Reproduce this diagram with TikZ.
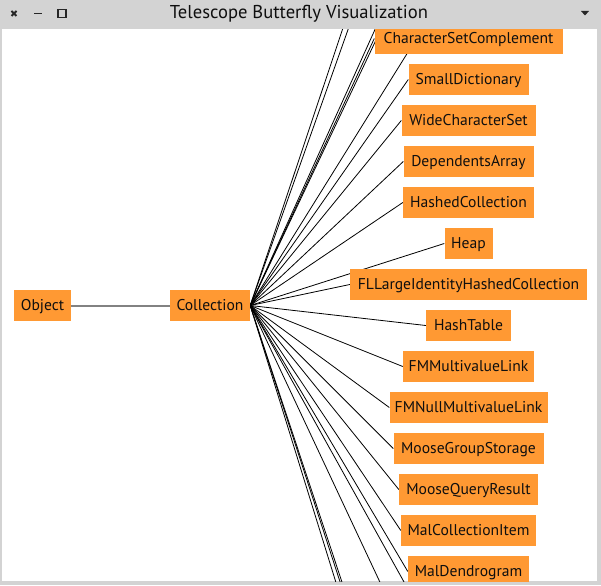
\documentclass[tikz,border=0pt]{standalone}
\usepackage{fontspec}
\setmainfont{PT Sans}
\definecolor{boxorange}{RGB}{255,153,51}
\definecolor{framegray}{RGB}{211,211,211}
\definecolor{edgegray}{RGB}{130,130,130}
\definecolor{txt}{RGB}{15,15,15}
\pgfdeclarelayer{bg}
\pgfdeclarelayer{edges}
\pgfsetlayers{bg,edges,main}
\begin{document}
\begin{tikzpicture}[x=1pt,y=-1pt,
  cls/.style={fill=boxorange, inner sep=0pt, minimum height=31pt, text height=12.5pt, text depth=1.7pt, font=\fontsize{15.6}{17}\selectfont, text=txt},
  edgeline/.style={black, line width=0.8pt},
  rootedge/.style={edgegray, line width=2pt},
  winicon/.style={black!85, line width=1.9pt}]
\useasboundingbox (0,0) rectangle (601,585);
\begin{pgfonlayer}{bg}
\fill[framegray] (0,0) rectangle (601,585);
\fill[white] (2,29) rectangle (597,581);
\end{pgfonlayer}
\begin{scope}
\clip (2,29) rectangle (597,581);
\node[cls, minimum width=57pt] (object) at (42.5,305.5) {Object};
\node[cls, minimum width=80pt] (collection) at (210,305.5) {Collection};
\node[cls, minimum width=188pt] (csc) at (468.5,38.5) {CharacterSetComplement};
\node[cls, minimum width=120pt] (smalldict) at (468.5,79.5) {SmallDictionary};
\node[cls, minimum width=134pt] (wide) at (468.5,120.5) {WideCharacterSet};
\node[cls, minimum width=130pt] (dep) at (468.5,161.5) {DependentsArray};
\node[cls, minimum width=131pt] (hashed) at (468.5,202.5) {HashedCollection};
\node[cls, minimum width=48pt] (heap) at (468.5,243.5) {Heap};
\node[cls, minimum width=237pt] (fllarge) at (468.5,284.5) {FLLargeIdentityHashedCollection};
\node[cls, minimum width=85pt] (hashtable) at (468.5,325.5) {HashTable};
\node[cls, minimum width=131pt] (fmmulti) at (468.5,366.5) {FMMultivalueLink};
\node[cls, minimum width=158pt] (fmnull) at (468.5,407.5) {FMNullMultivalueLink};
\node[cls, minimum width=150pt] (moosegroup) at (468.5,448.5) {MooseGroupStorage};
\node[cls, minimum width=139pt] (moosequery) at (468.5,489.5) {MooseQueryResult};
\node[cls, minimum width=135pt] (malcoll) at (468.5,530.5) {MalCollectionItem};
\node[cls, minimum width=121pt] (maldendro) at (468.5,571.5) {MalDendrogram};
\coordinate (t8) at (442,-2.5);
\coordinate (t9) at (408,-43.5);
\coordinate (t10) at (435,-84.5);
\coordinate (t11) at (403,-125.5);
\coordinate (t12) at (408,-166.5);
\coordinate (b7) at (421,612.5);
\coordinate (b8) at (413.4,653.5);
\coordinate (b9) at (379.3,694.5);
\coordinate (b10) at (390,735.5);
\coordinate (b11) at (396,776.5);
\end{scope}
\begin{pgfonlayer}{edges}
\begin{scope}
\clip (2,29) rectangle (597,581);
\draw[rootedge] (object.east) -- (collection.west);
\foreach \t in {t8,t9,t10,t11,t12,b7,b8,b9,b10,b11}
  \draw[edgeline] (collection.east) -- (\t);
\foreach \t in {csc,smalldict,wide,dep,hashed,heap,fllarge,hashtable,fmmulti,fmnull,moosegroup,moosequery,malcoll,maldendro}
  \draw[edgeline] (collection.east) -- (\t.west);
\end{scope}
\end{pgfonlayer}
\fill[framegray] (0,0) rectangle (601,29);
\node[font=\fontsize{18.6}{21}\selectfont, text=txt, inner sep=0pt] (title) at (299,14) {Telescope Butterfly Visualization};
\draw[winicon] (11.5,11) -- (16.5,16) (11.5,16) -- (16.5,11);
\draw[winicon] (34,13.5) -- (42,13.5);
\draw[winicon] (58,9.5) rectangle (66,17.5);
\fill[black!85] (581,11) -- (589,11) -- (585,15.5) -- cycle;
\end{tikzpicture}
\end{document}
